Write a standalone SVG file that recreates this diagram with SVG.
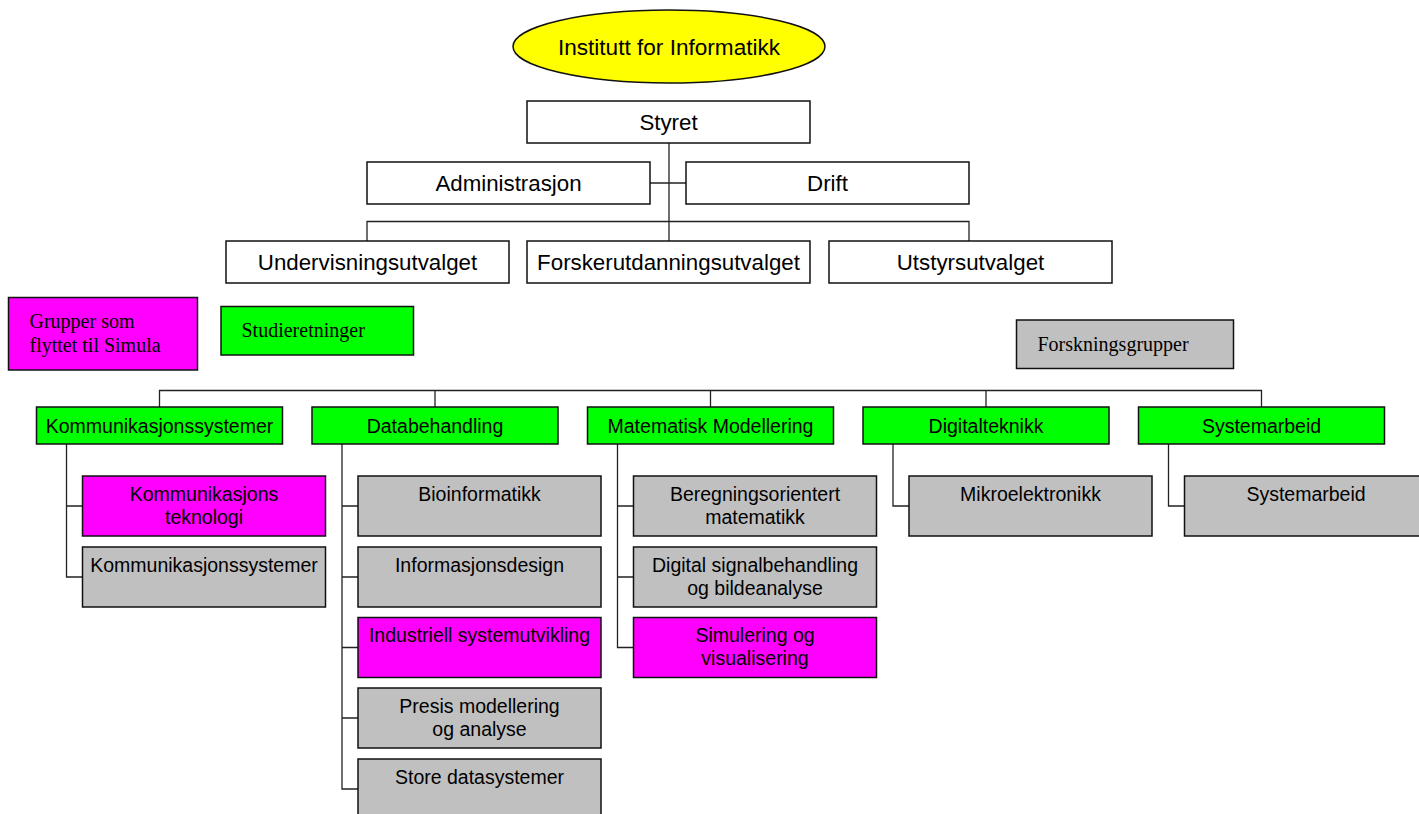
<svg xmlns="http://www.w3.org/2000/svg" width="1419" height="814" viewBox="0 0 1419 814">
<style>
.b{stroke:#111;stroke-width:1.5}
.w{fill:#fff}
.g{fill:#00ff00}
.m{fill:#ff00ff}
.s{fill:#c0c0c0}
.t1{font-family:"Liberation Sans",Arial,sans-serif;font-size:22.3px;fill:#000;text-anchor:middle}
.t2{font-family:"Liberation Sans",Arial,sans-serif;font-size:19.5px;fill:#000;text-anchor:middle}
.t3{font-family:"Liberation Serif","Times New Roman",serif;font-size:20px;fill:#000}
.c{fill:none;stroke:#222;stroke-width:1.3}
</style>
<g id="connectors">
<path class="c" d="M669,143V241 M650,183H686 M367,241V221.5H969V241"/>
<path class="c" d="M159.5,407V390.5H1261.5V407 M435,390.5V407 M710.5,390.5V407 M986,390.5V407"/>
<path class="c" d="M66.5,444V577H82.5 M66.5,506H82.5"/>
<path class="c" d="M342,444V789H358 M342,506H358 M342,577H358 M342,647.5H358 M342,718H358"/>
<path class="c" d="M617.5,444V647.5H633.5 M617.5,506H633.5 M617.5,577H633.5"/>
<path class="c" d="M893,444V506H909"/>
<path class="c" d="M1168.5,444V506H1184.5"/>
</g>
<g id="institutt"><ellipse class="b" cx="669" cy="46.5" rx="156" ry="36.5" fill="#ffff00"/><text class="t1" x="669" y="54.5" style="font-size:22.6px">Institutt for Informatikk</text></g>
<g id="styret"><rect class="b w" x="527" y="101" width="283" height="42"/><text class="t1" x="668.5" y="130">Styret</text></g>
<g id="administrasjon"><rect class="b w" x="367" y="162" width="283" height="42"/><text class="t1" x="508.5" y="191">Administrasjon</text></g>
<g id="drift"><rect class="b w" x="686" y="162" width="283" height="42"/><text class="t1" x="827.5" y="191">Drift</text></g>
<g id="undervisningsutvalget"><rect class="b w" x="226" y="241" width="283" height="42"/><text class="t1" x="367.5" y="270">Undervisningsutvalget</text></g>
<g id="forskerutdanningsutvalget"><rect class="b w" x="527" y="241" width="283" height="42"/><text class="t1" x="668.5" y="270">Forskerutdanningsutvalget</text></g>
<g id="utstyrsutvalget"><rect class="b w" x="829" y="241" width="283" height="42"/><text class="t1" x="970.5" y="270">Utstyrsutvalget</text></g>
<g id="legend-simula"><rect class="b m" x="8.5" y="297.5" width="189" height="72.5"/><text class="t3" x="29.5" y="327.5">Grupper som</text><text class="t3" x="29.5" y="352">flyttet til Simula</text></g>
<g id="legend-studie"><rect class="b g" x="221" y="306.5" width="192.5" height="48.5"/><text class="t3" x="241.5" y="336.5">Studieretninger</text></g>
<g id="legend-forskning"><rect class="b s" x="1016.5" y="320" width="217" height="48.5"/><text class="t3" x="1037.5" y="350.5">Forskningsgrupper</text></g>
<g id="sr-komm"><rect class="b g" x="36.5" y="407" width="246" height="37"/><text class="t2" x="159.5" y="432.5">Kommunikasjonssystemer</text></g>
<g id="sr-data"><rect class="b g" x="312" y="407" width="246" height="37"/><text class="t2" x="435" y="432.5">Databehandling</text></g>
<g id="sr-mat"><rect class="b g" x="587.5" y="407" width="246" height="37"/><text class="t2" x="710.5" y="432.5">Matematisk Modellering</text></g>
<g id="sr-dig"><rect class="b g" x="863" y="407" width="246" height="37"/><text class="t2" x="986" y="432.5">Digitalteknikk</text></g>
<g id="sr-sys"><rect class="b g" x="1138.5" y="407" width="246" height="37"/><text class="t2" x="1261.5" y="432.5">Systemarbeid</text></g>
<g id="fg-kommtek"><rect class="b m" x="82.5" y="476" width="243" height="60"/><text class="t2" x="204" y="500.5">Kommunikasjons</text><text class="t2" x="204" y="523.5">teknologi</text></g>
<g id="fg-kommsys"><rect class="b s" x="82.5" y="547" width="243" height="60"/><text class="t2" x="204" y="571.5">Kommunikasjonssystemer</text></g>
<g id="fg-bio"><rect class="b s" x="358" y="476" width="243" height="60"/><text class="t2" x="479.5" y="500.5">Bioinformatikk</text></g>
<g id="fg-info"><rect class="b s" x="358" y="547" width="243" height="60"/><text class="t2" x="479.5" y="571.5">Informasjonsdesign</text></g>
<g id="fg-ind"><rect class="b m" x="358" y="617.5" width="243" height="60"/><text class="t2" x="479.5" y="642">Industriell systemutvikling</text></g>
<g id="fg-presis"><rect class="b s" x="358" y="688" width="243" height="60"/><text class="t2" x="479.5" y="712.5">Presis modellering</text><text class="t2" x="479.5" y="735.5">og analyse</text></g>
<g id="fg-store"><rect class="b s" x="358" y="759" width="243" height="60"/><text class="t2" x="479.5" y="783.5">Store datasystemer</text></g>
<g id="fg-bereg"><rect class="b s" x="633.5" y="476" width="243" height="60"/><text class="t2" x="755" y="500.5">Beregningsorientert</text><text class="t2" x="755" y="523.5">matematikk</text></g>
<g id="fg-dsb"><rect class="b s" x="633.5" y="547" width="243" height="60"/><text class="t2" x="755" y="571.5">Digital signalbehandling</text><text class="t2" x="755" y="594.5">og bildeanalyse</text></g>
<g id="fg-sim"><rect class="b m" x="633.5" y="617.5" width="243" height="60"/><text class="t2" x="755" y="642">Simulering og</text><text class="t2" x="755" y="665">visualisering</text></g>
<g id="fg-mikro"><rect class="b s" x="909" y="476" width="243" height="60"/><text class="t2" x="1030.5" y="500.5">Mikroelektronikk</text></g>
<g id="fg-sysarb"><rect class="b s" x="1184.5" y="476" width="243" height="60"/><text class="t2" x="1306" y="500.5">Systemarbeid</text></g>
</svg>
